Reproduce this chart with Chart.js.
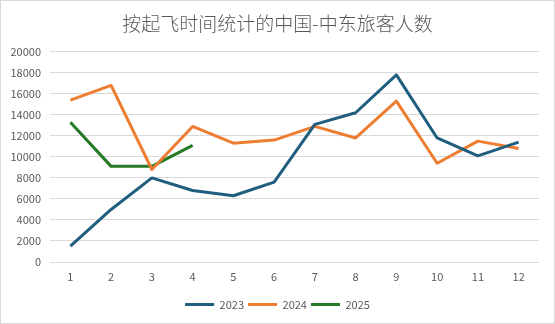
<!DOCTYPE html>
<html>
<head>
<meta charset="utf-8">
<script src="https://cdn.jsdelivr.net/npm/chart.js@4"></script>
<style>
  html, body { margin: 0; padding: 0; background: #fff; }
  #wrap { width: 555px; height: 324px; position: relative; }
</style>
</head>
<body>
<div id="wrap"><canvas id="paxChart" width="555" height="324"></canvas></div>
<script>
// 按起飞时间统计的中国-中东旅客人数
const months = ['1', '2', '3', '4', '5', '6', '7', '8', '9', '10', '11', '12'];
const pax2023 = [1500, 5000, 8000, 6800, 6300, 7600, 13100, 14200, 17800, 11800, 10100, 11400];
const pax2024 = [15400, 16800, 8800, 12900, 11300, 11600, 12900, 11800, 15300, 9400, 11500, 10800];
const pax2025 = [13300, 9100, 9100, 11100];
const yTicksMax = 20000;
const yTicksStep = 2000;

const textColor = '#595959';
const gridColor = '#d9d9d9';
const fontFamily = '"Noto Sans CJK SC", "Noto Sans", sans-serif';

// light frame round the whole picture
const framePlugin = {
    id: 'frame',
    afterDraw(chart) {
        const ctx = chart.ctx;
        ctx.save();
        ctx.strokeStyle = gridColor;
        ctx.lineWidth = 1;
        ctx.strokeRect(0.5, 0.5, chart.width - 1, chart.height - 1);
        ctx.restore();
    }
};

// title and legend sit on the canvas centre, not the padded box centre
const centerBoxesPlugin = {
    id: 'centerBoxes',
    afterLayout(chart) {
        [chart.titleBlock, chart.legend].forEach(box => {
            if (!box) return;
            const dx = chart.width / 2 - (box.left + box.right) / 2;
            box.left += dx;
            box.right += dx;
        });
    }
};

function makeSeries(label, data, color) {
    return {
        label: label,
        data: data,
        borderColor: color,
        backgroundColor: color,
        borderWidth: 3,
        pointRadius: 0,
        pointHoverRadius: 0,
        borderJoinStyle: 'round',
        tension: 0,
        fill: false
    };
}

const ctx = document.getElementById('paxChart').getContext('2d');
new Chart(ctx, {
    type: 'line',
    data: {
        labels: months,
        datasets: [
            makeSeries('2023', pax2023, '#1f5e7e'),
            makeSeries('2024', pax2024, '#ed7d31'),
            makeSeries('2025', pax2025, '#267a26')
        ]
    },
    options: {
        responsive: false,
        animation: false,
        layout: { padding: { left: 0, right: 16, top: 0, bottom: 4 } },
        plugins: {
            title: {
                display: true,
                text: '按起飞时间统计的中国-中东旅客人数',
                color: textColor,
                font: { family: fontFamily, size: 19, weight: 300 },
                padding: { top: 12, bottom: 17 }
            },
            legend: {
                position: 'bottom',
                labels: {
                    color: textColor,
                    font: { family: fontFamily, size: 11 },
                    usePointStyle: true,
                    pointStyle: 'line',
                    pointStyleWidth: 29,
                    boxHeight: 3,
                    padding: 4
                }
            },
            tooltip: { enabled: false }
        },
        scales: {
            x: {
                offset: true,
                grid: { display: false, drawTicks: false },
                border: { display: false },
                ticks: {
                    color: textColor,
                    font: { family: fontFamily, size: 11 },
                    padding: 8,
                    maxRotation: 0
                },
                afterFit(scale) { scale.height = 33; }
            },
            y: {
                min: 0,
                max: yTicksMax,
                grid: { color: gridColor, lineWidth: 1, drawTicks: false },
                border: { display: false },
                ticks: {
                    stepSize: yTicksStep,
                    color: textColor,
                    font: { family: fontFamily, size: 11 },
                    padding: 9,
                    callback: (v) => String(v)
                },
                afterFit(scale) { scale.width = 50; }
            }
        }
    },
    plugins: [framePlugin, centerBoxesPlugin]
});
</script>
</body>
</html>
